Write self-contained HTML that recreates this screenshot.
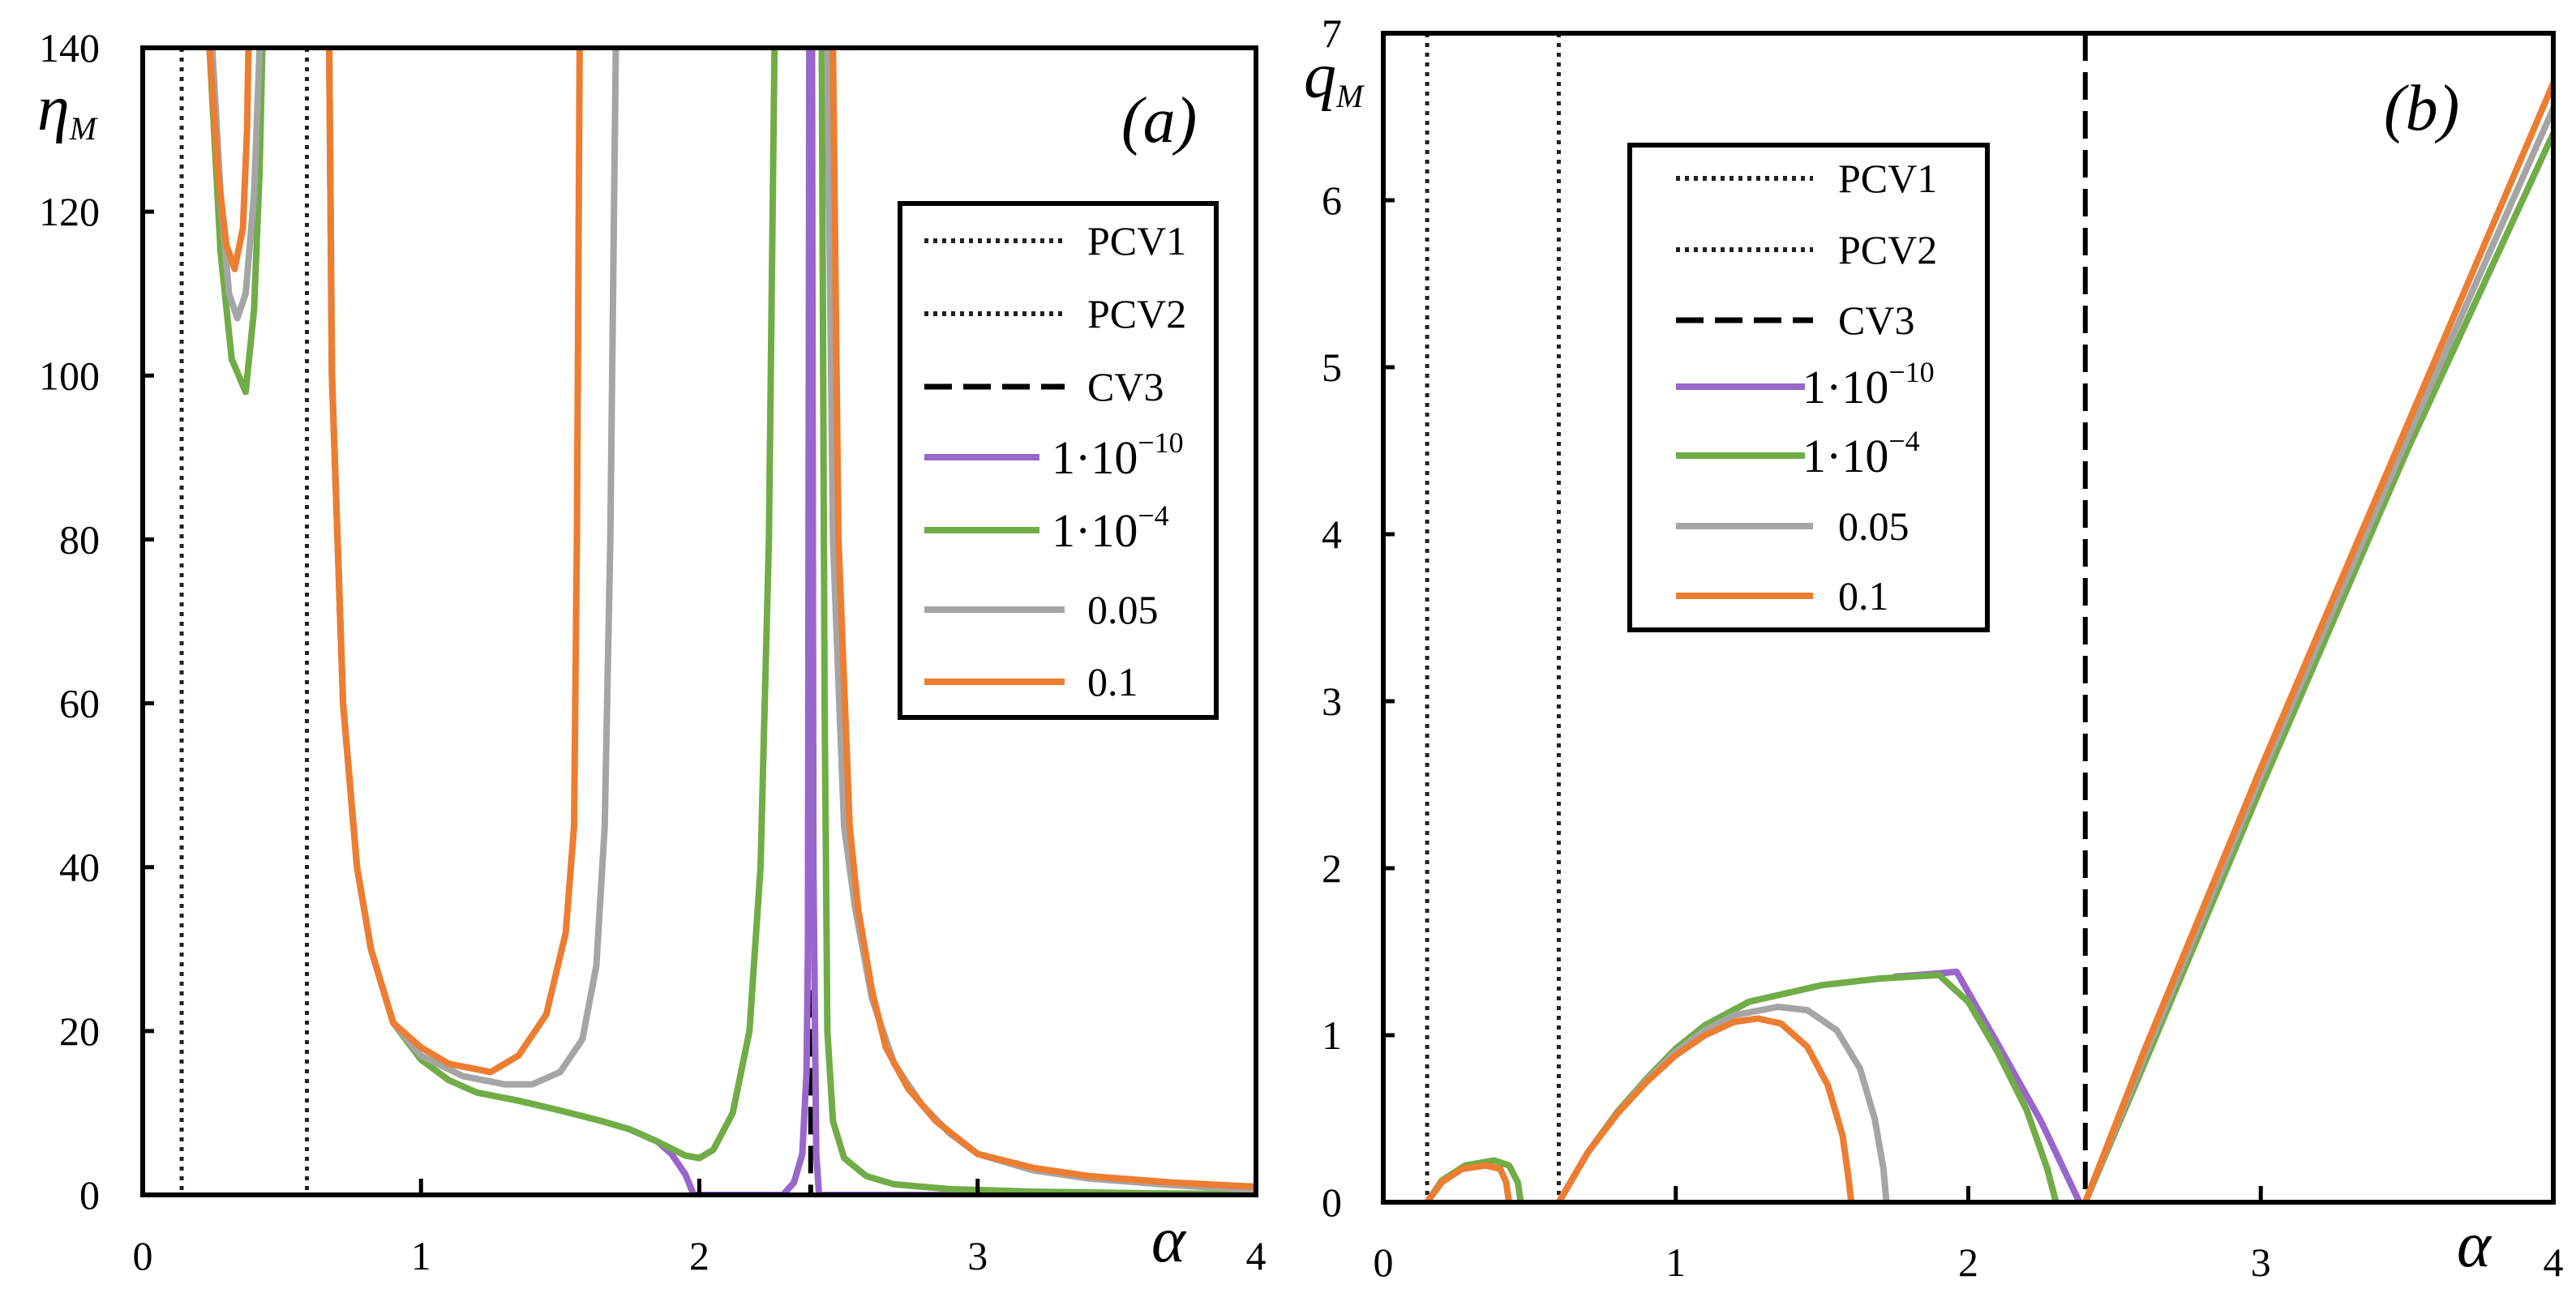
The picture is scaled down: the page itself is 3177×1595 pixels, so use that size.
<!DOCTYPE html>
<html><head><meta charset="utf-8"><style>body{margin:0;background:#fff}svg{display:block}text{font-family:"Liberation Serif",serif;fill:#000}</style></head>
<body>
<svg id="s" width="3177" height="1595" viewBox="0 0 3177 1595" xmlns="http://www.w3.org/2000/svg"></svg>
<script>
// ---- Panel (a) data: eta_M vs alpha ----
const aXTicks=[0,1,2,3,4];
const aYTicks=[0,20,40,60,80,100,120,140];
const aOrange=[[[0.24,140],[0.27,125],[0.30,116],[0.33,113],[0.36,118],[0.375,130],[0.38,140]],
 [[0.67,140],[0.68,100],[0.70,80],[0.72,60],[0.77,40],[0.82,30],[0.9,21],[1.0,18],[1.1,16],[1.25,15],[1.35,17],[1.45,22],[1.52,32],[1.55,45],[1.56,80],[1.57,140]],
 [[2.48,140],[2.5,80],[2.54,45],[2.57,35],[2.62,25],[2.67,18],[2.75,13],[2.85,9],[3.0,5],[3.2,3.3],[3.4,2.3],[3.7,1.5],[4.0,1.0]]];
const aGray=[[[0.25,140],[0.28,122],[0.31,110],[0.34,107],[0.37,110],[0.40,122],[0.42,140]],
 [[0.67,140],[0.68,100],[0.70,80],[0.72,60],[0.77,40],[0.82,30],[0.9,21],[1.0,17],[1.15,14.5],[1.3,13.5],[1.4,13.5],[1.5,15],[1.58,19],[1.63,28],[1.66,45],[1.68,80],[1.70,140]],
 [[2.46,140],[2.48,80],[2.52,45],[2.56,35],[2.62,24],[2.7,16],[2.8,11],[2.9,7.5],[3.0,5],[3.2,3],[3.4,2],[3.7,1.2],[4.0,0.6]]];
const aGreen=[[[0.24,140],[0.28,115],[0.32,102],[0.37,98],[0.40,108],[0.42,125],[0.43,140]],
 [[0.67,140],[0.68,100],[0.70,80],[0.72,60],[0.77,40],[0.82,30],[0.9,21],[1.0,16.5],[1.1,14],[1.2,12.5],[1.35,11.5],[1.5,10.3],[1.65,9],[1.75,8],[1.85,6.5],[1.95,4.8],[2.0,4.5],[2.05,5.5],[2.12,10],[2.18,20],[2.22,40],[2.25,80],[2.27,140]],
 [[2.44,140],[2.45,60],[2.46,20],[2.48,9],[2.52,4.5],[2.6,2.3],[2.7,1.3],[2.9,0.7],[3.2,0.4],[3.6,0.2],[4.0,0.1]]];
const aPurple=[[[1.75,8],[1.85,6.5],[1.9,5],[1.95,2.5],[1.98,0],[2.3,0],[2.34,1.5],[2.37,5],[2.385,15],[2.39,30],[2.395,140]],
 [[2.405,140],[2.41,40],[2.42,5],[2.43,0],[4.0,0]]];
const aPCV=[0.14,0.59];
// ---- Panel (b) data: q_M vs alpha ----
const bXTicks=[0,1,2,3,4];
const bYTicks=[0,1,2,3,4,5,6,7];
const bOrange=[[[0.15,0],[0.2,0.12],[0.27,0.2],[0.35,0.22],[0.4,0.2],[0.42,0.12],[0.43,0]],
 [[0.6,0],[0.7,0.3],[0.8,0.53],[0.9,0.72],[1.0,0.88],[1.1,1.0],[1.2,1.08],[1.28,1.1],[1.36,1.07],[1.45,0.93],[1.52,0.7],[1.57,0.4],[1.59,0.15],[1.6,0]],
 [[2.4,0],[2.6,0.9],[3.0,2.6],[3.5,4.65],[4.0,6.7]]];
const bGray=[[[0.6,0],[0.7,0.3],[0.8,0.53],[0.9,0.73],[1.0,0.9],[1.1,1.03],[1.2,1.12],[1.35,1.17],[1.45,1.15],[1.55,1.03],[1.63,0.8],[1.68,0.5],[1.71,0.2],[1.72,0]],
 [[2.4,0],[2.6,0.86],[3.0,2.55],[3.5,4.57],[4.0,6.55]]];
const bGreen=[[[0.15,0],[0.2,0.13],[0.28,0.22],[0.38,0.25],[0.43,0.22],[0.46,0.12],[0.47,0]],
 [[0.6,0],[0.7,0.3],[0.8,0.54],[0.9,0.74],[1.0,0.92],[1.1,1.06],[1.25,1.2],[1.5,1.3],[1.7,1.34],[1.9,1.36],[2.0,1.2],[2.1,0.9],[2.2,0.55],[2.27,0.2],[2.3,0]],
 [[2.4,0],[2.6,0.82],[3.0,2.48],[3.5,4.5],[4.0,6.4]]];
const bPurple=[[[1.75,1.35],[1.9,1.37],[1.96,1.38],[2.1,0.95],[2.25,0.48],[2.38,0]]];
const bPCV=[0.15,0.6];
const bCV=2.4;

const NS="http://www.w3.org/2000/svg";
const svg=document.getElementById('s');
function el(t,a,p){const e=document.createElementNS(NS,t);for(const k in a)e.setAttribute(k,a[k]);(p||svg).appendChild(e);return e;}
const C={orange:'#ED7D31',gray:'#A5A5A5',green:'#70AD47',purple:'#9966CC'};

function panel(P){
  const g=el('g',{});
  
  
  const sx=v=>P.x0+(v-P.xmin)/(P.xmax-P.xmin)*(P.x1-P.x0);
  const sy=v=>P.y1-(v-P.ymin)/(P.ymax-P.ymin)*(P.y1-P.y0);
  const clip='c'+P.name;
  const cp=el('clipPath',{id:clip},g);el('rect',{x:P.x0,y:P.y0,width:P.x1-P.x0,height:P.y1-P.y0},cp);
  const plot=el('g',{'clip-path':'url(#'+clip+')'},g);
  P.pcv.forEach((v,i)=>{const l=el('line',{x1:sx(v),x2:sx(v),y1:P.y0,y2:P.y1,stroke:'#222','stroke-width':5,'stroke-dasharray':'5 7'},plot);
    
    });
  if(P.cv!=null){const l=el('line',{x1:sx(P.cv),x2:sx(P.cv),y1:P.cvTop!=null?sy(P.cvTop):P.y0,y2:P.y1,stroke:'#000','stroke-width':6,'stroke-dasharray':'34 14'},plot);
    
    }
  P.series.forEach(s=>{s.d.forEach((seg,i)=>{
    const p=el('polyline',{points:seg.map(q=>sx(q[0]).toFixed(1)+','+sy(q[1]).toFixed(1)).join(' '),fill:'none',stroke:C[s.c],'stroke-width':8,'stroke-linejoin':'round','stroke-linecap':'round'},plot);
    
    });});
  const fr=el('rect',{x:P.x0,y:P.y0,width:P.x1-P.x0,height:P.y1-P.y0,fill:'none',stroke:'#000','stroke-width':6},g);
  
  
  P.xt.forEach(v=>{
    if(v>P.xmin&&v<P.xmax)el('line',{x1:sx(v),x2:sx(v),y1:P.y1,y2:P.y1-20,stroke:'#000','stroke-width':5},g);
    const t=el('text',{x:sx(v),y:P.xly,'font-size':50,'text-anchor':'middle'},g);t.textContent=v;
    
    });
  P.yt.forEach(v=>{
    if(v>P.ymin&&v<P.ymax)el('line',{x1:P.x0,x2:P.x0+14,y1:sy(v),y2:sy(v),stroke:'#000','stroke-width':5},g);
    const t=el('text',{x:P.ylx,y:sy(v)+17,'font-size':50,'text-anchor':'end'},g);t.textContent=v;
    
    });
  // legend
  const L=P.leg;
  const lb=el('rect',{x:L.x,y:L.y,width:L.w,height:L.h,fill:'#fff',stroke:'#000','stroke-width':6},g);
  
  
  const items=[['PCV1','dot'],['PCV2','dot'],['CV3','dash'],['1·10','purple','−10'],['1·10','green','−4'],['0.05','gray'],['0.1','orange']];
  items.forEach((it,i)=>{
    const y=L.rows[i];
    const style=it[1]=='dot'?{stroke:'#222','stroke-width':6,'stroke-dasharray':'5 6'}:it[1]=='dash'?{stroke:'#000','stroke-width':7,'stroke-dasharray':'34 14'}:{stroke:C[it[1]],'stroke-width':8};
    const short=it[2]!=null;
    el('line',Object.assign({x1:L.lx0,x2:short?L.lx1s:L.lx1,y1:y,y2:y},style),g);
    const t=el('text',{x:short?L.tx-44:L.tx,y:y+(short?20:17),'font-size':short?58:50},g);
    t.textContent=it[0];
    if(short){const s=el('tspan',{dy:-26,'font-size':36},t);s.textContent=it[2];}
    
    
  });
  P.labels.forEach(l=>{const t=el('text',{x:l.x,y:l.y,'font-size':l.fs,'font-style':'italic'},g);t.textContent=l.t;
    if(l.sub){const s=el('tspan',{'font-size':40,dy:12},t);s.textContent=l.sub;}
    
    });
}
panel({name:'panel-a',x0:176,x1:1549,y0:59,y1:1474,xmin:0,xmax:4,ymin:0,ymax:140,xt:aXTicks,yt:aYTicks,xly:1566,ylx:123,
 pcv:aPCV,cv:2.4,cvTop:25,
 series:[{n:'purple',c:'purple',d:aPurple},{n:'green',c:'green',d:aGreen},{n:'gray',c:'gray',d:aGray},{n:'orange',c:'orange',d:aOrange}],
 leg:{x:1110,y:251,w:390,h:634,rows:[297,387,477,564,654,752,841],lx0:1140,lx1:1313,lx1s:1282,tx:1341},
 labels:[{t:'η',sub:'M',x:46,y:160,fs:80,n:'y-axis-title'},{t:'α',x:1420,y:1556,fs:80,n:'x-axis-title'},{t:'(a)',x:1383,y:175,fs:80,n:'panel-label'}]});
panel({name:'panel-b',x0:1706,x1:3149,y0:41,y1:1483,xmin:0,xmax:4,ymin:0,ymax:7,xt:bXTicks,yt:bYTicks,xly:1574,ylx:1655,
 pcv:bPCV,cv:bCV,
 series:[{n:'purple',c:'purple',d:bPurple},{n:'green',c:'green',d:bGreen},{n:'gray',c:'gray',d:bGray},{n:'orange',c:'orange',d:bOrange}],
 leg:{x:2010,y:179,w:441,h:598,rows:[220,308,395,477,562,649,735],lx0:2067,lx1:2236,lx1s:2226,tx:2267},
 labels:[{t:'q',sub:'M',x:1608,y:120,fs:80,n:'y-axis-title'},{t:'α',x:3030,y:1562,fs:80,n:'x-axis-title'},{t:'(b)',x:2940,y:160,fs:80,n:'panel-label'}]});
</script>
</body></html>
